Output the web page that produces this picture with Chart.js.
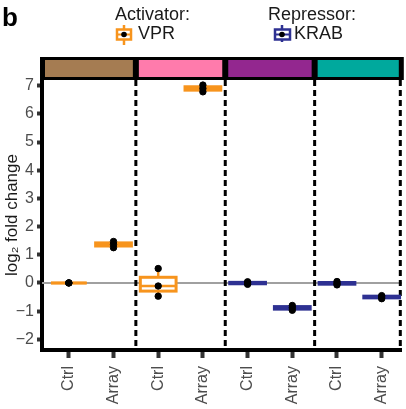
<!DOCTYPE html>
<html>
<head>
<meta charset="utf-8">
<script src="https://cdn.jsdelivr.net/npm/chart.js@4"></script>
<style>
  body { margin: 0; background: #fff; }
  #wrap { position: relative; width: 406px; height: 409px; font-family: "Liberation Sans", Arial, sans-serif; }
  #wrap canvas { position: absolute; left: 0; top: 0; }
  .lbl { position: absolute; line-height: 1; color: #1a1a1a; font-size: 18px; white-space: nowrap; }
  .icon { position: absolute; }
</style>
</head>
<body>
<div id="wrap">
  <canvas id="chart" width="406" height="409"></canvas>
  <div class="lbl" style="left:2px;top:4px;font-size:26px;font-weight:bold;color:#000">b</div>
  <div class="lbl" style="left:115px;top:5px">Activator:</div>
  <svg class="icon" style="left:115px;top:24px" width="20" height="22">
    <line x1="9" y1="1" x2="9" y2="21" stroke="#F7941D" stroke-width="2.5"/>
    <rect x="2" y="5.5" width="14" height="10" fill="#fff" stroke="#F7941D" stroke-width="2.5"/>
    <line x1="2" y1="10.5" x2="16" y2="10.5" stroke="#F7941D" stroke-width="2"/>
    <circle cx="9" cy="10.5" r="2.8" fill="#000"/>
  </svg>
  <div class="lbl" style="left:138px;top:24px">VPR</div>
  <div class="lbl" style="left:268px;top:5px">Repressor:</div>
  <svg class="icon" style="left:273px;top:24px" width="20" height="22">
    <line x1="9" y1="1" x2="9" y2="18" stroke="#2E3192" stroke-width="2.5"/>
    <rect x="2" y="5.5" width="15" height="10" fill="#fff" stroke="#2E3192" stroke-width="2.5"/>
    <line x1="2" y1="10.5" x2="17" y2="10.5" stroke="#2E3192" stroke-width="2"/>
    <circle cx="9" cy="10.5" r="2.8" fill="#000"/>
  </svg>
  <div class="lbl" style="left:294px;top:24px">KRAB</div>
</div>
<script>
// data (log2 fold change)
const tickLabels = ['Ctrl', 'Array', 'Ctrl', 'Array', 'Ctrl', 'Array', 'Ctrl', 'Array'];
const effector = ['VPR', 'VPR', 'VPR', 'VPR', 'KRAB', 'KRAB', 'KRAB', 'KRAB'];
const lower  = [0, 1.25, -0.47, 6.78, -0.05, -0.97, -0.07, -0.56];
const q1     = [0, 1.31, -0.29, 6.84, -0.03, -0.93, -0.045, -0.53];
const median = [0, 1.37, -0.11, 6.90, 0.00, -0.88, -0.02, -0.50];
const q3     = [0, 1.42, 0.20, 6.96, 0.02, -0.84, 0.015, -0.47];
const upper  = [0, 1.47, 0.51, 7.02, 0.04, -0.80, 0.05, -0.45];
const replicates = [
  [0, 0, 0],
  [1.25, 1.37, 1.47],
  [-0.47, -0.11, 0.51],
  [6.78, 6.90, 7.02],
  [-0.05, 0.00, 0.04],
  [-0.97, -0.88, -0.80],
  [-0.07, -0.02, 0.05],
  [-0.56, -0.50, -0.45]
];
const yTicks = [-2, -1, 0, 1, 2, 3, 4, 5, 6, 7];
const panelEdges = [1.5, 3.5, 5.5];

const effectorColors = { VPR: '#F7941D', KRAB: '#2E3192' };
const stripColors = ['#A57C52', '#FF7BAC', '#93278F', '#00A99D'];

const points = replicates.flatMap((vals, i) => vals.map(v => ({ x: i, y: v })));

const boxPlugin = {
  id: 'boxes',
  beforeDatasetsDraw(chart) {
    const { ctx, chartArea: a, scales: { x, y } } = chart;
    ctx.save();
    // zero line
    ctx.strokeStyle = '#A0A0A0';
    ctx.lineWidth = 2;
    ctx.beginPath();
    ctx.moveTo(a.left, y.getPixelForValue(0));
    ctx.lineTo(a.right, y.getPixelForValue(0));
    ctx.stroke();

    // panel separators
    ctx.strokeStyle = '#000';
    ctx.lineWidth = 3;
    ctx.setLineDash([6, 4]);
    panelEdges.map(v => x.getPixelForValue(v)).concat([a.right - 1.5]).forEach(px => {
      ctx.beginPath();
      ctx.moveTo(px, a.top);
      ctx.lineTo(px, a.bottom);
      ctx.stroke();
    });
    ctx.setLineDash([]);

    // boxes
    tickLabels.forEach((_, i) => {
      const col = effectorColors[effector[i]];
      const x0 = x.getPixelForValue(i - 0.4);
      const x1 = x.getPixelForValue(i + 0.4);
      const xc = x.getPixelForValue(i);
      const yq1 = y.getPixelForValue(q1[i]);
      const yq3 = y.getPixelForValue(q3[i]);
      ctx.strokeStyle = col;
      ctx.lineWidth = 2.5;
      ctx.beginPath();
      ctx.moveTo(xc, y.getPixelForValue(upper[i]));
      ctx.lineTo(xc, yq3);
      ctx.moveTo(xc, y.getPixelForValue(lower[i]));
      ctx.lineTo(xc, yq1);
      ctx.stroke();
      ctx.lineWidth = 3;
      ctx.fillStyle = '#fff';
      ctx.fillRect(x0, yq3, x1 - x0, yq1 - yq3);
      ctx.strokeRect(x0, yq3, x1 - x0, yq1 - yq3);
      ctx.lineWidth = 2.5;
      ctx.beginPath();
      ctx.moveTo(x0, y.getPixelForValue(median[i]));
      ctx.lineTo(x1, y.getPixelForValue(median[i]));
      ctx.stroke();
    });
    ctx.restore();
  },
  afterDraw(chart) {
    const { ctx, chartArea: a, scales: { x } } = chart;
    const edges = [a.left].concat(panelEdges.map(v => x.getPixelForValue(v)), [a.right]);
    ctx.save();
    ctx.fillStyle = '#000';
    ctx.fillRect(a.left - 2, 57, a.right - a.left + 4, 23);
    stripColors.forEach((c, i) => {
      ctx.fillStyle = c;
      ctx.fillRect(edges[i] + 3, 60, edges[i + 1] - edges[i] - 6, 17);
    });
    ctx.restore();
  }
};

new Chart(document.getElementById('chart'), {
  type: 'scatter',
  data: {
    datasets: [{
      data: points,
      backgroundColor: '#000',
      borderColor: '#000',
      pointRadius: 3.2,
      pointHoverRadius: 3.2
    }]
  },
  options: {
    responsive: false,
    animation: false,
    layout: { padding: { top: 80, right: 2, left: 0, bottom: 0 } },
    plugins: { legend: { display: false }, tooltip: { enabled: false } },
    scales: {
      x: {
        type: 'linear',
        min: -0.6,
        max: 7.45,
        afterBuildTicks: axis => { axis.ticks = tickLabels.map((_, i) => ({ value: i })); },
        afterFit: scale => {
          scale.height = 59;
          scale.paddingLeft = 0;
          scale.paddingRight = 0;
        },
        grid: { drawOnChartArea: false, tickLength: 8, tickWidth: 4, tickColor: '#333' },
        border: { display: true, width: 4, color: '#000' },
        ticks: {
          callback: v => tickLabels[v],
          maxRotation: 90,
          minRotation: 90,
          padding: 8,
          color: '#4D4D4D',
          font: { family: 'Liberation Sans', size: 16 }
        }
      },
      y: {
        min: -2.38,
        max: 7.2,
        afterBuildTicks: axis => { axis.ticks = yTicks.map(v => ({ value: v })); },
        afterFit: scale => { scale.width = 42; },
        grid: { drawOnChartArea: false, tickLength: 5, tickWidth: 4, tickColor: '#333' },
        border: { display: true, width: 4, color: '#000' },
        ticks: {
          callback: v => (v < 0 ? '\u2212' + Math.abs(v) : String(v)),
          padding: 3,
          color: '#4D4D4D',
          font: { family: 'Liberation Sans', size: 16 }
        },
        title: {
          display: true,
          text: 'log\u2082 fold change',
          color: '#1a1a1a',
          padding: 2,
          font: { family: 'Liberation Sans', size: 17 }
        }
      }
    }
  },
  plugins: [boxPlugin]
});
</script>
</body>
</html>
